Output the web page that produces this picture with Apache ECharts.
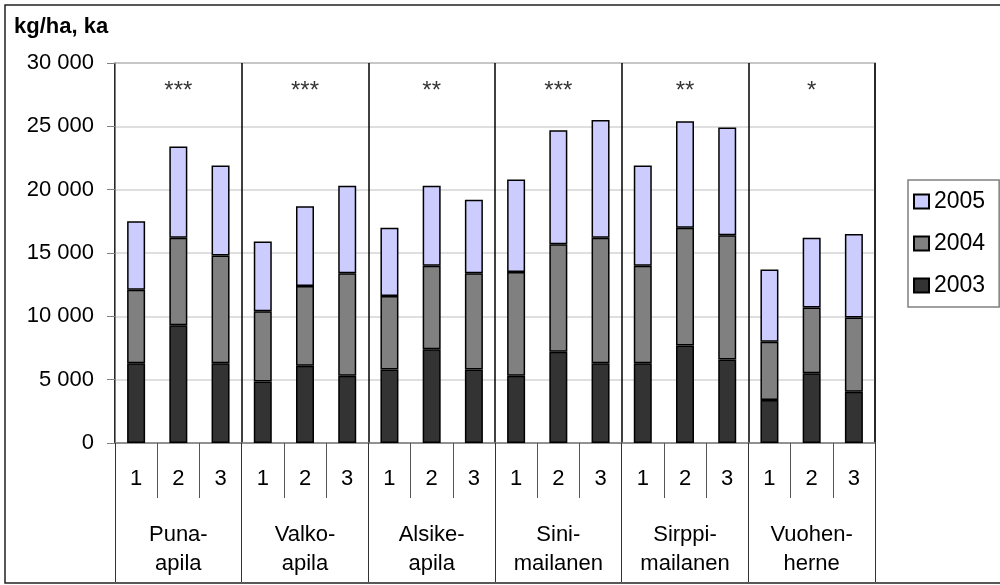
<!DOCTYPE html>
<html>
<head>
<meta charset="utf-8">
<script src="https://cdn.jsdelivr.net/npm/echarts@6/dist/echarts.min.js"></script>
<style>
  html, body { margin: 0; padding: 0; background: #fff; }
  #chart { width: 1000px; height: 585px; }
</style>
</head>
<body>
<div id="chart"></div>
<script>
// Dry-matter yield (kg/ha) per legume species, sowing 1-3, stacked by year
const groups = ['Puna-\napila', 'Valko-\napila', 'Alsike-\napila', 'Sini-\nmailanen', 'Sirppi-\nmailanen', 'Vuohen-\nherne'];
const subLabels = ['1', '2', '3'];
const significance = ['***', '***', '**', '***', '**', '*'];

// yield of each year, stacked bottom (2003) to top (2005)
const y2003 = [6300, 9300, 6300, 4850, 6100, 5300, 5800, 7400, 5800, 5300, 7200, 6300, 6300, 7700, 6600, 3400, 5500, 4050];
const y2004 = [5800, 6900, 8500, 5550, 6300, 8100, 5800, 6600, 7600, 8200, 8500, 9900, 7700, 9300, 9800, 4600, 5200, 5850];
const y2005 = [5400, 7200, 7100, 5500, 6300, 6900, 5400, 6300, 5800, 7300, 9000, 9300, 7900, 8400, 8500, 5700, 5500, 6600];

const categories = [];
groups.forEach(() => subLabels.forEach(s => categories.push(s)));

const FONT = 'Liberation Sans, Arial, sans-serif';
const fmt = v => String(v).replace(/\B(?=(\d{3})+(?!\d))/g, ' ');

const chart = echarts.init(document.getElementById('chart'));
chart.setOption({
  animation: false,
  textStyle: { fontFamily: FONT, color: '#000' },
  graphic: [
    { type: 'rect', shape: { x: 5, y: 5, width: 1000, height: 578 }, style: { fill: 'none', stroke: '#222', lineWidth: 1.5 }, silent: true },
    { type: 'text', left: 14, top: 16, style: { text: 'kg/ha, ka', font: 'bold 22px ' + FONT, fill: '#000' } }
  ],
  grid: { left: 115, right: 125, top: 63, bottom: 142, show: true, borderColor: '#808080', borderWidth: 1.5 },
  legend: {
    data: ['2005', '2004', '2003'],
    orient: 'vertical',
    left: 908, top: 180,
    itemWidth: 15, itemHeight: 14, itemGap: 19,
    padding: [10, 14, 10, 5],
    borderColor: '#808080', borderWidth: 1.5,
    textStyle: { fontSize: 23, fontFamily: FONT, color: '#000' },
    icon: 'rect'
  },
  xAxis: [
    {
      type: 'category', data: categories, position: 'bottom',
      axisLine: { show: true, lineStyle: { color: '#808080', width: 1.5 } },
      axisTick: { show: true, interval: 0, length: 55, lineStyle: { color: '#555', width: 1 } },
      axisLabel: { show: true, interval: 0, margin: 25, fontSize: 22, color: '#000' },
      splitLine: { show: false }
    },
    {
      type: 'category', data: groups, position: 'bottom',
      axisLine: { show: false },
      axisTick: { show: true, interval: 0, length: 139, lineStyle: { color: '#333', width: 1 } },
      axisLabel: { show: true, interval: 0, margin: 77, fontSize: 22, lineHeight: 29, color: '#000' },
      splitLine: { show: true, interval: 0, lineStyle: { color: '#000', width: 1.5 } }
    }
  ],
  yAxis: {
    type: 'value', min: 0, max: 30000, interval: 5000,
    axisLine: { show: true, lineStyle: { color: '#808080' } },
    axisTick: { show: true, length: 8, lineStyle: { color: '#808080' } },
    axisLabel: { margin: 21, fontSize: 22, color: '#000', formatter: fmt },
    splitLine: { lineStyle: { color: '#d4d4d4', width: 1.5 } }
  },
  series: [
    { name: '2003', type: 'bar', stack: 'y', data: y2003, barWidth: 18,
      itemStyle: { color: '#333333', borderColor: '#000', borderWidth: 1.5 } },
    { name: '2004', type: 'bar', stack: 'y', data: y2004, barWidth: 18,
      itemStyle: { color: '#808080', borderColor: '#000', borderWidth: 1.5 } },
    { name: '2005', type: 'bar', stack: 'y', data: y2005, barWidth: 18,
      itemStyle: { color: '#ccccff', borderColor: '#000', borderWidth: 1.5 } },
    { name: 'sig', type: 'scatter', xAxisIndex: 1, symbolSize: 0,
      data: significance.map((s, i) => [i, 28000]),
      label: { show: true, position: 'inside', offset: [0, 3], fontSize: 24, color: '#000',
        formatter: p => significance[p.dataIndex] } }
  ]
});
</script>
</body>
</html>
